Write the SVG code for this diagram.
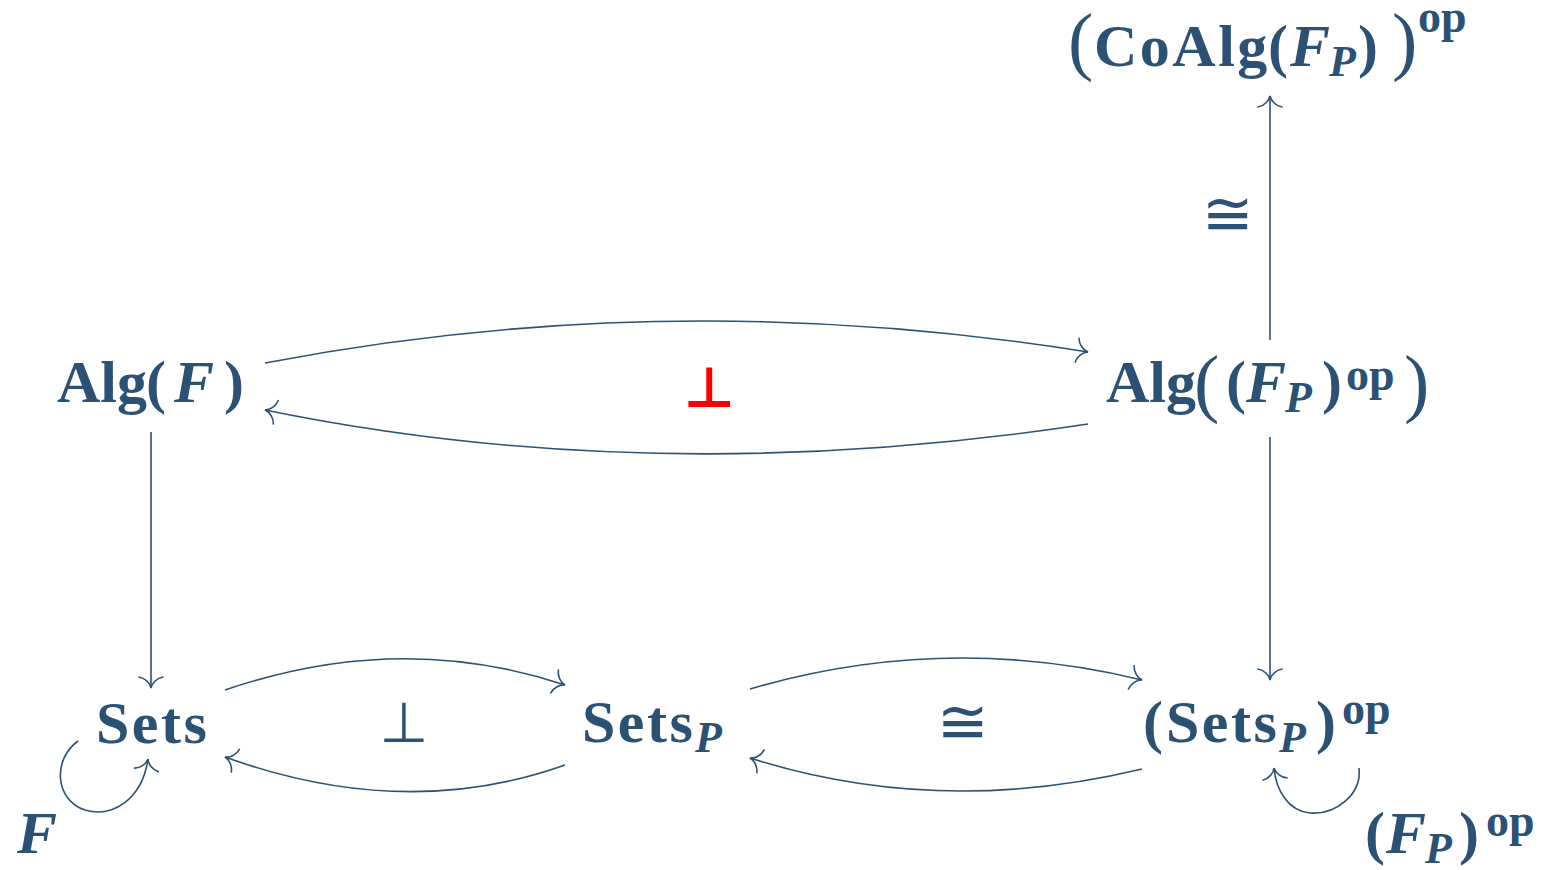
<svg xmlns="http://www.w3.org/2000/svg" width="1562" height="870" viewBox="0 0 1562 870">
<style>
.t{font-family:"Liberation Serif","Times New Roman",serif;font-weight:bold;font-size:60px;fill:#2b5174}
.i{font-style:italic}
.s{font-size:44px}
.u{font-size:46px}
.w{letter-spacing:2.5px}
.big{font-weight:normal;font-size:76px}
.sym{font-family:"DejaVu Sans",sans-serif;font-size:56px;fill:#2b5174}
.cong{font-family:"DejaVu Sans",sans-serif;font-size:62px;fill:#2b5174}
.red{fill:#ff0000;font-weight:bold}
.c{fill:none;stroke:#2b5174;stroke-width:1.6}
</style>
<defs>
<marker id="to" markerUnits="userSpaceOnUse" markerWidth="30" markerHeight="30" viewBox="-15 -15 30 30" refX="0" refY="0" orient="auto">
<path d="M-11,-12 C-10,-6 -5,-1 0,0 C-5,1 -10,6 -11,12" fill="none" stroke="#2b5174" stroke-width="1.6" stroke-linecap="round"/>
</marker>
</defs>
<g id="connectors">
<path class="c" d="M265,363 Q670,285 1088,352" marker-end="url(#to)"/>
<path class="c" d="M1088,424 Q655,490 265,410" marker-end="url(#to)"/>
<path class="c" d="M151,432 L151,688" marker-end="url(#to)"/>
<path class="c" d="M1270,437 L1270,680" marker-end="url(#to)"/>
<path class="c" d="M1270,340 L1270,96" marker-end="url(#to)"/>
<path class="c" d="M225,690 Q400,630 565,685" marker-end="url(#to)"/>
<path class="c" d="M565,765 Q405,822 225,757" marker-end="url(#to)"/>
<path class="c" d="M750,689 Q945,632 1142,680" marker-end="url(#to)"/>
<path class="c" d="M1142,769 Q938,818 750,758" marker-end="url(#to)"/>
<path class="c" d="M78,741 C52,760 55,800 85,810 C112,818 142,800 148,759" marker-end="url(#to)"/>
<path class="c" d="M1359,768 C1362,795 1335,815 1310,813 C1288,811 1276,790 1274,768" marker-end="url(#to)"/>
<text class="sym red" x="709" y="407" text-anchor="middle">⊥</text>
<text class="sym" x="404" y="742" text-anchor="middle">⊥</text>
<text class="cong" x="963" y="743" text-anchor="middle">≅</text>
<text class="cong" x="1228" y="235" text-anchor="middle">≅</text>
</g>
<g id="coalg">
<text class="t" y="66"><tspan class="big" x="1068">(</tspan><tspan class="w" x="1094">CoAlg</tspan><tspan x="1268">(</tspan><tspan class="i" x="1290">F</tspan><tspan class="i s" x="1329" y="76">P</tspan><tspan x="1358" y="66">)</tspan><tspan class="big" x="1392">)</tspan><tspan class="u" x="1418" y="32">op</tspan></text>
</g>
<g id="algF">
<text class="t" y="402"><tspan x="57">Alg</tspan><tspan x="146">(</tspan><tspan class="i" x="174">F</tspan><tspan x="224">)</tspan></text>
</g>
<g id="algFPop">
<text class="t" y="402"><tspan x="1106">Alg</tspan><tspan class="big" x="1194" y="408">(</tspan><tspan x="1226" y="402">(</tspan><tspan class="i" x="1246">F</tspan><tspan class="i s" x="1285" y="412">P</tspan><tspan x="1322" y="402">)</tspan><tspan class="u" x="1346" y="390">op</tspan><tspan class="big" x="1404" y="408">)</tspan></text>
</g>
<g id="sets">
<text class="t w" x="96" y="743">Sets</text>
</g>
<g id="setsP">
<text class="t" y="742"><tspan class="w" x="582">Sets</tspan><tspan class="i s" x="695" y="752">P</tspan></text>
</g>
<g id="setsPop">
<text class="t" y="742"><tspan x="1143">(</tspan><tspan class="w" x="1166">Sets</tspan><tspan class="i s" x="1279" y="752">P</tspan><tspan x="1316" y="742">)</tspan><tspan class="u" x="1342" y="724">op</tspan></text>
</g>
<g id="labelF">
<text class="t i" x="17" y="853">F</text>
</g>
<g id="labelFPop">
<text class="t" y="853"><tspan x="1365">(</tspan><tspan class="i" x="1386">F</tspan><tspan class="i s" x="1425" y="863">P</tspan><tspan x="1459" y="853">)</tspan><tspan class="u" x="1486" y="836">op</tspan></text>
</g>
</svg>
